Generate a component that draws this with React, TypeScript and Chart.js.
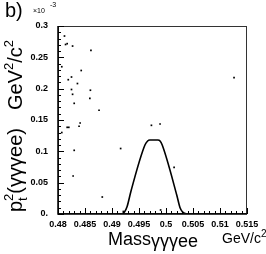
import React, { useEffect, useRef } from "react";
import { Chart, registerables } from "chart.js";

Chart.register(...registerables);

// Scatter points: [mass (GeV/c^2), pt^2 (x10^-3 GeV^2/c^2)]
const massValues = [
  0.4812, 0.4814, 0.4817, 0.4827, 0.4861, 0.4807, 0.4843, 0.4819, 0.4825, 0.4836,
  0.4825, 0.486, 0.4827, 0.4859, 0.483, 0.4876, 0.4841, 0.4839, 0.4817, 0.482,
  0.4807, 0.483, 0.4916, 0.4828, 0.4882, 0.4921, 0.4973, 0.4989, 0.5015, 0.499,
  0.5126,
];
const pt2Values = [
  0.284, 0.2705, 0.2718, 0.268, 0.261, 0.235, 0.229, 0.2143, 0.2186, 0.2082,
  0.1987, 0.1975, 0.191, 0.1846, 0.1766, 0.1656, 0.1452, 0.14, 0.1383, 0.1383,
  0.13, 0.1016, 0.1045, 0.0606, 0.0271, 0.004, 0.1415, 0.1436, 0.0745, 0.0064,
  0.2175,
];

// Signal contour outline
const contourMass = [
  0.4918, 0.4923, 0.4928, 0.4935, 0.4961, 0.4966, 0.497, 0.4985, 0.4989, 0.4993,
  0.502, 0.5026, 0.5031, 0.5038,
];
const contourPt2 = [
  0, 0.003, 0.012, 0.036, 0.11, 0.1165, 0.118, 0.118, 0.1165, 0.11,
  0.03, 0.01, 0.003, 0,
];

const xTicks = [0.48, 0.485, 0.49, 0.495, 0.5, 0.505, 0.51, 0.515];
const yTicks = [0, 0.05, 0.1, 0.15, 0.2, 0.25, 0.3];

const FONT = "'Liberation Sans', Arial, sans-serif";

const decorPlugin = {
  id: "decor",
  afterDraw(chart: any) {
    const ctx = chart.ctx as CanvasRenderingContext2D;
    const { left, right, top, bottom } = chart.chartArea;
    const xs = chart.scales.x;
    const ys = chart.scales.y;
    ctx.save();
    // frame
    ctx.strokeStyle = "#333";
    ctx.lineWidth = 1;
    ctx.strokeRect(left + 0.5, top + 0.5, right - left - 1, bottom - top - 1);
    ctx.strokeStyle = "#000";
    ctx.lineWidth = 1.5;
    ctx.beginPath();
    ctx.moveTo(left, top);
    ctx.lineTo(left, bottom);
    ctx.lineTo(right, bottom);
    ctx.stroke();
    // ticks
    ctx.lineWidth = 1;
    ctx.beginPath();
    for (let i = 0; i <= 30; i++) {
      const v = i * 0.01;
      const p = Math.round(ys.getPixelForValue(v)) + 0.5;
      const len = i % 5 === 0 ? 6 : 3;
      ctx.moveTo(left, p);
      ctx.lineTo(left + len, p);
    }
    for (let i = 0; i <= 35; i++) {
      const v = 0.48 + i * 0.001;
      const p = Math.round(xs.getPixelForValue(v)) + 0.5;
      const len = i % 5 === 0 ? 6 : 3;
      ctx.moveTo(p, bottom);
      ctx.lineTo(p, bottom - len);
    }
    ctx.stroke();

    ctx.fillStyle = "#000";
    // panel label
    ctx.font = `20px ${FONT}`;
    ctx.textBaseline = "alphabetic";
    ctx.textAlign = "left";
    ctx.fillText("b)", 5, 17);
    ctx.font = `7px ${FONT}`;
    ctx.fillText("\u00d710", 33, 13);
    ctx.fillText("-3", 50, 7);

    // y title (rotated)
    const drawSeq = (parts: { t: string; size: number; dy: number; adv?: boolean }[], startX: number, baseY: number) => {
      let x = startX;
      for (const p of parts) {
        ctx.font = `${p.size}px ${FONT}`;
        ctx.fillText(p.t, x, baseY + p.dy);
        if (p.adv !== false) x += ctx.measureText(p.t).width;
      }
    };
    ctx.save();
    ctx.translate(22, 0);
    ctx.rotate(-Math.PI / 2);
    drawSeq(
      [
        { t: "GeV", size: 20, dy: 0 },
        { t: "2", size: 13, dy: -9 },
        { t: "/c", size: 20, dy: 0 },
        { t: "2", size: 13, dy: -9 },
      ],
      -110,
      0
    );
    drawSeq(
      [
        { t: "p", size: 20, dy: 0 },
        { t: "t", size: 13, dy: 5, adv: false },
        { t: "2", size: 13, dy: -9 },
        { t: "(\u03b3\u03b3\u03b3ee)", size: 20, dy: 0 },
      ],
      -212,
      0
    );
    ctx.restore();

    // x title
    drawSeq(
      [
        { t: "Mass", size: 18, dy: 0 },
        { t: "\u03b3\u03b3\u03b3ee", size: 18, dy: 2 },
      ],
      108,
      245
    );
    drawSeq(
      [
        { t: "GeV/c", size: 14, dy: 0 },
        { t: "2", size: 10, dy: -6 },
      ],
      222,
      243
    );
    ctx.restore();
  },
};

export default function App() {
  const ref = useRef<HTMLCanvasElement | null>(null);
  useEffect(() => {
    if (!ref.current) return;
    const chart = new Chart(ref.current, {
      type: "scatter",
      data: {
        datasets: [
          {
            data: massValues.map((m, i) => ({ x: m, y: pt2Values[i] })),
            backgroundColor: "#000",
            borderColor: "#000",
            pointRadius: 1.2,
            pointBorderWidth: 0,
            pointStyle: "rect",
          },
          {
            data: contourMass.map((m, i) => ({ x: m, y: contourPt2[i] })),
            showLine: true,
            borderColor: "#000",
            borderWidth: 1.6,
            pointRadius: 0,
            cubicInterpolationMode: "monotone",
            fill: false,
          } as any,
        ],
      },
      options: {
        animation: false,
        responsive: false,
        maintainAspectRatio: false,
        events: [],
        layout: { padding: { top: 26, right: 19, left: 0, bottom: 0 } },
        plugins: { legend: { display: false }, tooltip: { enabled: false } },
        scales: {
          x: {
            type: "linear",
            min: 0.48,
            max: 0.515,
            border: { display: false },
            grid: { display: false, drawTicks: false },
            afterFit: (s: any) => {
              s.height = 40;
            },
            afterBuildTicks: (s: any) => {
              s.ticks = xTicks.map((v) => ({ value: v }));
            },
            ticks: {
              autoSkip: false,
              maxRotation: 0,
              padding: 5,
              color: "#000",
              font: { family: FONT, size: 9, weight: "bold" },
              callback: (v: any) => String(Number(Number(v).toFixed(4))),
            },
          },
          y: {
            type: "linear",
            min: 0,
            max: 0.3,
            border: { display: false },
            grid: { display: false, drawTicks: false },
            afterFit: (s: any) => {
              s.width = 58;
            },
            afterBuildTicks: (s: any) => {
              s.ticks = yTicks.map((v) => ({ value: v }));
            },
            ticks: {
              autoSkip: false,
              padding: 10,
              color: "#000",
              font: { family: FONT, size: 9, weight: "bold" },
              callback: (v: any) => (Number(v) === 0 ? "0." : String(Number(Number(v).toFixed(3)))),
            },
          },
        },
      },
      plugins: [decorPlugin],
    });
    return () => chart.destroy();
  }, []);
  return (
    <div style={{ position: "fixed", left: 0, top: 0, width: 266, height: 254, background: "#fff" }}>
      <canvas ref={ref} width={266} height={254} style={{ width: 266, height: 254, display: "block" }} />
    </div>
  );
}
